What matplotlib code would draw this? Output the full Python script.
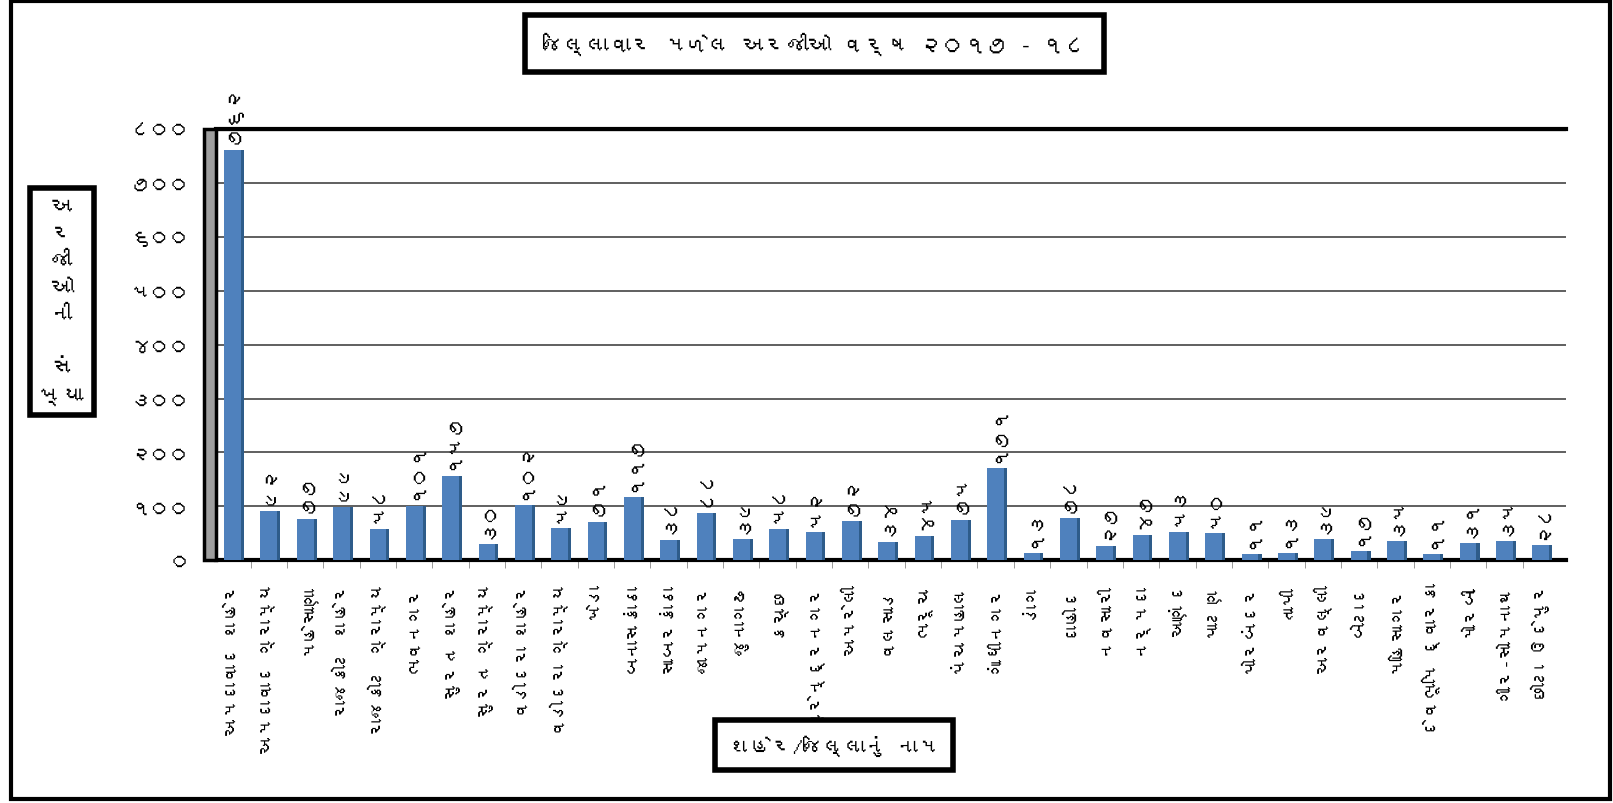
import matplotlib
matplotlib.use("Agg")
import matplotlib.pyplot as plt
from matplotlib import font_manager
from matplotlib.ft2font import FT2Font
from matplotlib.patches import Rectangle
import numpy as np

# data
districts = ["અમદાવાદ શહેર", "અમદાવાદ ગ્રામ્ય", "મહેસાણા", "રાજકોટ શહેર", "રાજકોટ ગ્રામ્ય",
             "ભાવનગર", "સુરત શહેર", "સુરત ગ્રામ્ય", "વડોદરા શહેર", "વડોદરા ગ્રામ્ય",
             "ખેડા", "બનાસકાંઠા", "સાબરકાંઠા", "જામનગર", "જુનાગઢ", "કચ્છ", "સુરેન્દ્રનગર",
             "અમરેલી", "વલસાડ", "ભરૂચ", "પંચમહાલ", "ગાંધીનગર", "ડાંગ", "દાહોદ", "નવસારી",
             "નર્મદા", "આણંદ", "પાટણ", "પોરબંદર", "તાપી", "અરવલ્લી", "બોટાદ", "મહિસાગર",
             "દેવભૂમિ દ્વારકા", "મોરબી", "ગીર-સોમનાથ", "છોટા ઉદેપુર"]
applications = [762, 92, 77, 99, 58, 101, 157, 30, 102, 59, 71, 117, 38, 88, 39, 58, 52,
                72, 34, 45, 75, 171, 13, 78, 27, 47, 53, 50, 11, 13, 39, 17, 35, 11, 31, 35, 28]
yticks = [0, 100, 200, 300, 400, 500, 600, 700, 800]

title = "જિલ્લાવાર મળેલ અરજીઓ વર્ષ ૨૦૧૭ - ૧૮"
xlabel = "શહેર/જિલ્લાનું નામ"
ylabel = "અ\nર\nજી\nઓ\nની\n\nસં\nખ્યા"

guj_digits = str.maketrans("0123456789", "૦૧૨૩૪૫૬૭૮૯")

def guj(n):
    return str(n).translate(guj_digits)

# pick a font with gujarati glyphs if one exists
families = []
for f in font_manager.fontManager.ttflist:
    try:
        if ord("ક") in FT2Font(f.fname).get_charmap() and f.name not in families:
            families.append(f.name)
    except Exception:
        pass
plt.rcParams["font.family"] = families[:1] + ["DejaVu Sans"]

fig = plt.figure(figsize=(16.13, 8.04), dpi=100)
ax = fig.add_axes([0.134, 0.302, 0.837, 0.536])

x = np.arange(len(districts))
ax.bar(x + 0.27, applications, width=0.09, color="#2E5C8A", zorder=3)
ax.bar(x, applications, width=0.46, color="#4F81BD", zorder=4)

for xi, v in zip(x, applications):
    ax.text(xi + 0.05, v + 12, guj(v), rotation=90, ha="center", va="bottom",
            fontsize=14, zorder=5)

ax.set_xlim(-0.45, 36.7)
ax.set_ylim(0, 800)
ax.set_yticks(yticks)
ax.set_yticklabels([guj(t) for t in yticks], fontsize=14)
ax.set_xticks(x)
ax.set_xticklabels(districts, rotation=90, fontsize=13, va="top")
ax.tick_params(axis="x", length=0, pad=16)
ax.set_xticks(x[:-1] + 0.5, minor=True)
ax.tick_params(axis="x", which="minor", length=6, color="#888888")
ax.tick_params(axis="y", length=5, pad=14, color="#666666")

ax.yaxis.grid(True, color="#444444", linewidth=1.2, zorder=0)
ax.set_axisbelow(True)
for s in ["left", "right"]:
    ax.spines[s].set_visible(False)
ax.spines["top"].set_linewidth(3)
ax.spines["bottom"].set_linewidth(3)
ax.axhline(800, color="black", linewidth=3, zorder=2)

# grey side wall
wall = Rectangle((-0.009, 0), 0.009, 1.0, transform=ax.transAxes, facecolor="#9E9E9E",
                 edgecolor="black", linewidth=2.5, clip_on=False, zorder=6)
ax.add_patch(wall)

# title box
fig.text(0.505, 0.945, title, ha="center", va="center", fontsize=16,
         bbox=dict(boxstyle="square,pad=0.75", facecolor="white", edgecolor="black", linewidth=4))

# axis label boxes
fig.text(0.0385, 0.624, ylabel, ha="center", va="center", fontsize=16, linespacing=1.6,
         bbox=dict(boxstyle="square,pad=0.45", facecolor="white", edgecolor="black", linewidth=4))
fig.text(0.517, 0.072, xlabel, ha="center", va="center", fontsize=15,
         bbox=dict(boxstyle="square,pad=0.7", facecolor="white", edgecolor="black", linewidth=4))

# outer frame
fig.patches.append(Rectangle((0.007, 0.005), 0.991, 0.992, transform=fig.transFigure,
                             fill=False, edgecolor="black", linewidth=3))

fig.savefig("out.png", dpi=100)
